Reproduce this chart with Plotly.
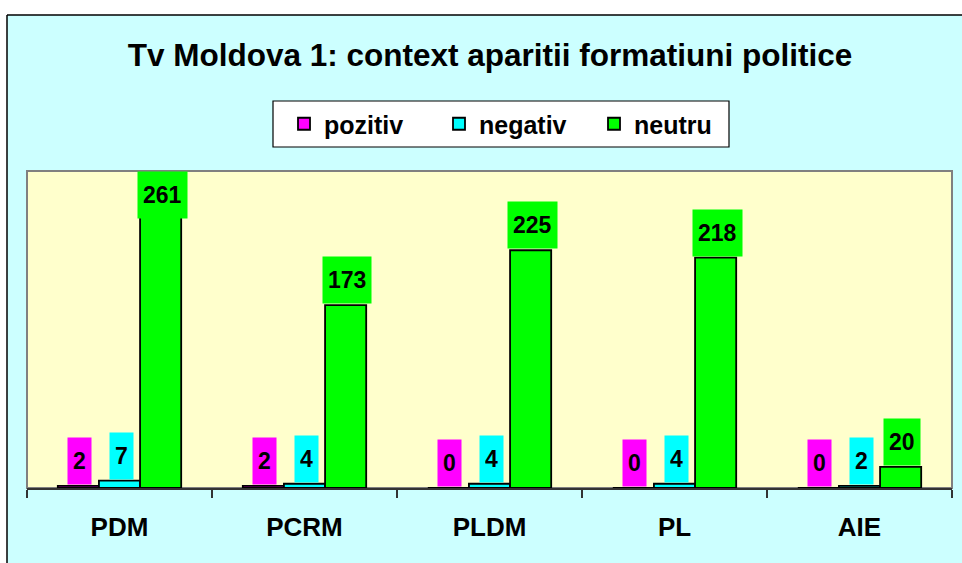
import plotly.graph_objects as go

categories = ["PDM", "PCRM", "PLDM", "PL", "AIE"]
series_names = ["pozitiv", "negativ", "neutru"]
pozitiv = [2, 2, 0, 0, 0]
negativ = [7, 4, 4, 4, 2]
neutru = [261, 173, 225, 218, 20]
title_text = "Tv Moldova 1: context aparitii formatiuni politice"

colors = ["#FF00FF", "#00FFFF", "#00FF00"]
values = [pozitiv, negativ, neutru]

W, H = 962, 563
# plot area in page pixels
PL_L, PL_R, PL_T, PL_B = 27, 952, 171, 488
ML, MR, MT, MB = PL_L, W - PL_R, PL_T, H - PL_B
PW, PH = W - ML - MR, H - MT - MB
YMAX = 300
FONT = "Liberation Sans, Arial, sans-serif"


def px_x(wx):
    return (wx - PL_L) / PW


def px_y(wy):
    return (PL_B - wy) / PH


fig = go.Figure()
for name, vals, col in zip(series_names, values, colors):
    fig.add_trace(go.Bar(
        x=categories, y=vals, name=name,
        marker=dict(color=col, line=dict(color="#000000", width=1.8)),
    ))

bargap = 0.333
cat_px = PW / len(categories)
bar_px = cat_px * (1 - bargap) / 3
BOX_H = 46
annotations = []
for i, (vals, col) in enumerate(zip(values, colors)):
    for cat, v in zip(categories, vals):
        bar_top_px = v * PH / YMAX
        if bar_top_px + BOX_H + 1 > PH:
            y, anchor, ys = YMAX, "top", 0
        else:
            y, anchor, ys = v, "bottom", 1
        annotations.append(dict(
            x=cat, y=y, xref="x", yref="y", text=str(v), showarrow=False,
            xanchor="center", yanchor=anchor, yshift=ys,
            xshift=(i - 1) * bar_px + 1.5,
            bgcolor=col, borderpad=5, height=BOX_H - 10,
            font=dict(family=FONT, size=23, color="#000000", weight="bold"),
        ))

shapes = [
    # white page outside the chart border
    dict(type="rect", xref="paper", yref="paper", x0=px_x(-10), x1=px_x(W + 10),
         y0=px_y(15), y1=px_y(-10), fillcolor="#FFFFFF", line=dict(width=0), layer="below"),
    dict(type="rect", xref="paper", yref="paper", x0=px_x(-10), x1=px_x(7),
         y0=px_y(H + 10), y1=px_y(-10), fillcolor="#FFFFFF", line=dict(width=0), layer="below"),
    # chart border (top and left visible)
    dict(type="line", xref="paper", yref="paper", x0=px_x(7), x1=px_x(W + 20),
         y0=px_y(15), y1=px_y(15), line=dict(color="#000000", width=1.5)),
    dict(type="line", xref="paper", yref="paper", x0=px_x(7), x1=px_x(7),
         y0=px_y(15), y1=px_y(H + 20), line=dict(color="#000000", width=1.5)),
    # legend box
    dict(type="rect", xref="paper", yref="paper", x0=px_x(273), x1=px_x(729),
         y0=px_y(147), y1=px_y(101), fillcolor="#FFFFFF",
         line=dict(color="#000000", width=1.2), layer="below"),
    # plot area border
    dict(type="rect", xref="paper", yref="paper", x0=0, x1=1, y0=0, y1=1,
         line=dict(color="#808080", width=2), layer="below"),
]

fig.update_layout(
    width=W, height=H,
    margin=dict(l=ML, r=MR, t=MT, b=MB, pad=0),
    paper_bgcolor="#CCFFFF", plot_bgcolor="#FFFFCC",
    barmode="group", bargap=bargap, bargroupgap=0,
    title=dict(text=title_text, x=px_x(490), xref="paper", xanchor="center",
               y=1 - 55 / H, yref="container", yanchor="middle",
               font=dict(family=FONT, size=31.5, color="#000000", weight="bold")),
    legend=dict(orientation="h", x=px_x(284), y=px_y(124), xanchor="left", yanchor="middle",
                bgcolor="rgba(0,0,0,0)", borderwidth=0,
                font=dict(family=FONT, size=25, color="#000000", weight="bold"),
                itemwidth=30, tracegroupgap=0, entrywidth=110, entrywidthmode="pixels"),
    showlegend=True,
    hovermode=False,
    xaxis=dict(showline=True, linecolor="#333333", linewidth=2, ticks="outside",
               tickson="boundaries", ticklen=8, tickcolor="#333333", tickwidth=1.5,
               ticklabelstandoff=15,
               tickfont=dict(family=FONT, size=26, color="#000000", weight="bold"),
               showgrid=False, zeroline=False),
    yaxis=dict(range=[0, YMAX], showticklabels=False, showgrid=False, zeroline=False,
               showline=False, ticks=""),
    annotations=annotations,
    shapes=shapes,
)

fig.write_html(
    "out.html",
    config={"displayModeBar": False},
    post_script="document.body.style.margin='0';document.body.style.padding='0';",
)
